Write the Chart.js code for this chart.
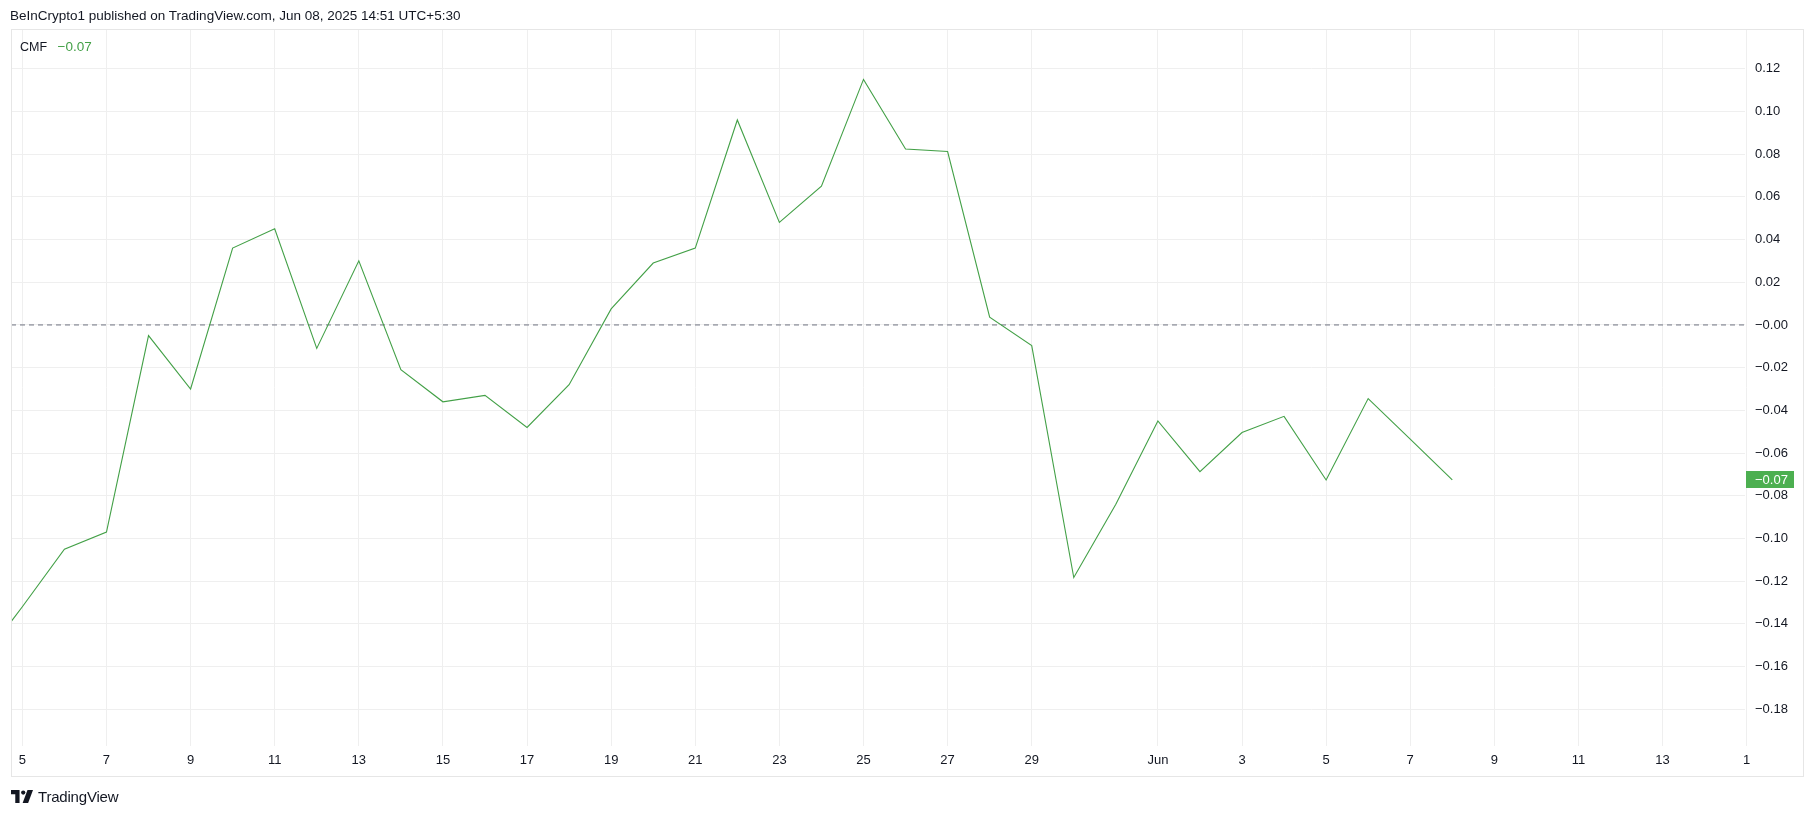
<!DOCTYPE html>
<html>
<head>
<meta charset="utf-8">
<script src="https://cdn.jsdelivr.net/npm/chart.js@4.4.1/dist/chart.umd.min.js"></script>
<style>
  html, body { margin: 0; padding: 0; background: #ffffff; }
  body { width: 1814px; height: 816px; position: relative; overflow: hidden;
         font-family: "Liberation Sans", "DejaVu Sans", sans-serif; color: #131722; }
  #chart { position: absolute; left: 0; top: 0; }
  .frame { position: absolute; left: 11px; top: 29px; width: 1791px; height: 746px;
           border: 1px solid #e6e6e6; box-sizing: content-box; pointer-events: none; }
  .header { position: absolute; left: 10px; top: 8px; font-size: 13.5px; white-space: nowrap; }
  .legend { position: absolute; left: 20px; top: 39px; font-size: 12.5px; white-space: nowrap; }
  .legend .val { color: #43a047; margin-left: 7px; font-size: 13.5px; }
  .brand { position: absolute; left: 11px; top: 787px; height: 18px; display: flex; align-items: center; }
  .brand span { font-size: 15px; margin-left: 5px; letter-spacing: -0.2px; }
</style>
</head>
<body>
<canvas id="chart" width="1814" height="816"></canvas>
<div class="frame"></div>
<div class="header">BeInCrypto1 published on TradingView.com, Jun 08, 2025 14:51 UTC+5:30</div>
<div class="legend">CMF <span class="val">−0.07</span></div>
<div class="brand">
  <svg width="22" height="13" viewBox="0 0 36 21">
    <path d="M0 0h14v21H7V7H0z" fill="#131722"/>
    <circle cx="20" cy="4" r="3.5" fill="#131722"/>
    <path d="M27 0h9l-8 21h-9z" fill="#131722"/>
  </svg>
  <span>TradingView</span>
</div>
<script>
// ---- data ----
const dates = [
  '2025-05-04','2025-05-05','2025-05-06','2025-05-07','2025-05-08','2025-05-09','2025-05-10',
  '2025-05-11','2025-05-12','2025-05-13','2025-05-14','2025-05-15','2025-05-16','2025-05-17',
  '2025-05-18','2025-05-19','2025-05-20','2025-05-21','2025-05-22','2025-05-23','2025-05-24',
  '2025-05-25','2025-05-26','2025-05-27','2025-05-28','2025-05-29','2025-05-30','2025-05-31',
  '2025-06-01','2025-06-02','2025-06-03','2025-06-04','2025-06-05','2025-06-06','2025-06-07',
  '2025-06-08'
];
const cmfValues = [
  -0.158, -0.132, -0.105, -0.097, -0.005, -0.030, 0.036,
   0.045, -0.011, 0.030, -0.021, -0.036, -0.033, -0.048,
  -0.028, 0.0075, 0.029, 0.036, 0.096, 0.048, 0.065,
   0.115, 0.0824, 0.0812, 0.0036, -0.0097, -0.1183, -0.084,
  -0.045, -0.0687, -0.0504, -0.0428, -0.0726, -0.0345, -0.0535,
  -0.0726
];
const xTickDates = [
  '2025-05-05','2025-05-07','2025-05-09','2025-05-11','2025-05-13','2025-05-15','2025-05-17',
  '2025-05-19','2025-05-21','2025-05-23','2025-05-25','2025-05-27','2025-05-29',
  '2025-06-01','2025-06-03','2025-06-05','2025-06-07','2025-06-09','2025-06-11','2025-06-13',
  '2025-06-15'
];
const xTickLabels = ['5','7','9','11','13','15','17','19','21','23','25','27','29',
                     'Jun','3','5','7','9','11','13','1'];
const yTickValues = [0.12, 0.10, 0.08, 0.06, 0.04, 0.02, 0.00, -0.02, -0.04, -0.06,
                     -0.08, -0.10, -0.12, -0.14, -0.16, -0.18];
const zeroLevel = 0;
const lastLabel = '−0.07';

// ---- helpers ----
const originDate = Date.UTC(2025, 4, 5);
function dayIndex(s) {
  const p = s.split('-').map(Number);
  return (Date.UTC(p[0], p[1] - 1, p[2]) - originDate) / 86400000;
}
const xMin = -0.27, xMax = 40.96;
const yMin = -0.1972, yMax = 0.1386;
const xTickPos = xTickDates.map(dayIndex);
const points = dates.map((d, i) => ({ x: dayIndex(d), y: cmfValues[i] }));
function fmt(v) {
  const a = Math.abs(v).toFixed(2);
  return v <= 0 ? '−' + a : a;
}
const FONT = { family: '"Liberation Sans", "DejaVu Sans", sans-serif', size: 13 };
const GREEN = '#43a047';

const badgePlugin = {
  id: 'lastBadge',
  afterDraw(chart) {
    const { ctx, chartArea, scales } = chart;
    const last = cmfValues[cmfValues.length - 1];
    const y = scales.y.getPixelForValue(last);
    ctx.save();
    ctx.fillStyle = '#4caf50';
    ctx.fillRect(chartArea.right + 1, Math.round(y - 8.5), 48, 17);
    ctx.fillStyle = '#ffffff';
    ctx.font = '13px ' + FONT.family;
    ctx.textAlign = 'left';
    ctx.textBaseline = 'middle';
    ctx.fillText(lastLabel, chartArea.right + 10, y + 0.5);
    ctx.restore();
  }
};

new Chart(document.getElementById('chart'), {
  type: 'line',
  data: {
    datasets: [
      {
        label: 'CMF',
        data: points,
        borderColor: GREEN,
        borderWidth: 1.1,
        pointRadius: 0,
        tension: 0,
        fill: false,
        order: 1
      },
      {
        label: 'zero',
        data: [{ x: xMin, y: zeroLevel }, { x: xMax, y: zeroLevel }],
        borderColor: '#6f7280',
        borderWidth: 1,
        borderDash: [5, 4],
        pointRadius: 0,
        fill: false,
        order: 2
      }
    ]
  },
  options: {
    responsive: false,
    animation: false,
    devicePixelRatio: 1,
    layout: { padding: { left: 11, top: 29, right: 11, bottom: 40 } },
    plugins: { legend: { display: false }, tooltip: { enabled: false } },
    scales: {
      x: {
        type: 'linear',
        position: 'bottom',
        min: xMin,
        max: xMax,
        afterBuildTicks(scale) { scale.ticks = xTickPos.map(v => ({ value: v })); },
        afterFit(scale) { scale.height = 30; },
        grid: { color: '#efefef', drawTicks: false },
        border: { display: false },
        ticks: {
          autoSkip: false,
          maxRotation: 0,
          padding: 7,
          color: '#131722',
          font: FONT,
          callback(value) {
            const i = xTickPos.indexOf(value);
            return i >= 0 ? xTickLabels[i] : '';
          }
        }
      },
      y: {
        type: 'linear',
        position: 'right',
        min: yMin,
        max: yMax,
        afterBuildTicks(scale) { scale.ticks = yTickValues.map(v => ({ value: v })); },
        afterFit(scale) { scale.width = 58; },
        grid: { color: '#efefef', drawTicks: false },
        border: { display: false },
        ticks: {
          padding: 10,
          color: '#131722',
          font: FONT,
          callback(value) { return fmt(value); }
        }
      }
    }
  },
  plugins: [badgePlugin]
});
</script>
</body>
</html>
